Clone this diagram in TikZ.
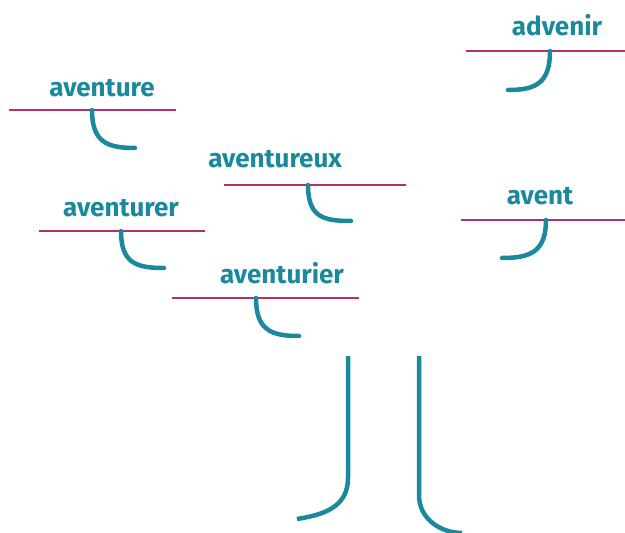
\documentclass[tikz,border=0pt]{standalone}
\usepackage{fontspec}
\setmainfont{Fira Sans}
\usetikzlibrary{positioning}
\definecolor{tealword}{HTML}{1A899D}
\definecolor{berry}{HTML}{B3306F}
\tikzset{
  word/.style={text=tealword,font=\bfseries\fontsize{26}{30}\selectfont,inner sep=0pt,anchor=base},
  rule/.style={draw=berry,line width=2.6pt},
  hook/.style={draw=tealword,line width=4.5pt,line cap=round},
}

\begin{document}
\begin{tikzpicture}[x=1pt,y=-1pt]
        \useasboundingbox (0,0) rectangle (625,533);
        % words
        \node[word] (aventure) at (102,96) {aventure};
        \node[word] (aventureux) at (275,167) {aventureux};
        \node[word] (aventurer) at (121,216) {aventurer};
        \node[word] (aventurier) at (282,283) {aventurier};
        \node[word] (advenir) at (557,35) {advenir};
        \node[word] (avent) at (540,204) {avent};
        % rule ends and hooks
        \coordinate (r1a) at (9,110);   \coordinate (r1b) at (176,110);
        \coordinate (h1a) at (92,110);  \coordinate (h1b) at (135,148);
        \coordinate (r2a) at (224,185); \coordinate (r2b) at (406,185);
        \coordinate (h2a) at (308,185); \coordinate (h2b) at (351,221);
        \coordinate (r3a) at (39,231);  \coordinate (r3b) at (205,231);
        \coordinate (h3a) at (121,231); \coordinate (h3b) at (164,268);
        \coordinate (r4a) at (172,298); \coordinate (r4b) at (359,298);
        \coordinate (h4a) at (256,298); \coordinate (h4b) at (299,336);
        \coordinate (r5a) at (466,51);  \coordinate (r5b) at (625,51);
        \coordinate (h5a) at (550,51);  \coordinate (h5b) at (508,90);
        \coordinate (r6a) at (461,220); \coordinate (r6b) at (625,220);
        \coordinate (h6a) at (546,220); \coordinate (h6b) at (502,258);
        \foreach \i in {1,...,6}
            \draw[rule] (r\i a) -- (r\i b);
        \foreach \i in {1,2,3,4}
            \draw[hook] (h\i a) .. controls +(0,32) and +(-28,0) .. (h\i b);
        \foreach \i in {5,6}
            \draw[hook] (h\i a) .. controls +(0,32) and +(28,0) .. (h\i b);
        % trunk
        \coordinate (t1a) at (348,356); \coordinate (t1b) at (348,478); \coordinate (t1c) at (297,519);
        \coordinate (t2a) at (419,356); \coordinate (t2b) at (419,495); \coordinate (t2c) at (462,533);
        \draw[hook,line cap=butt] (t1a) -- (t1b) .. controls +(0,30) and +(25,-4) .. (t1c);
        \draw[hook,line cap=butt] (t2a) -- (t2b) .. controls +(0,25) and +(-20,0) .. (t2c);
\end{tikzpicture}
\end{document}
